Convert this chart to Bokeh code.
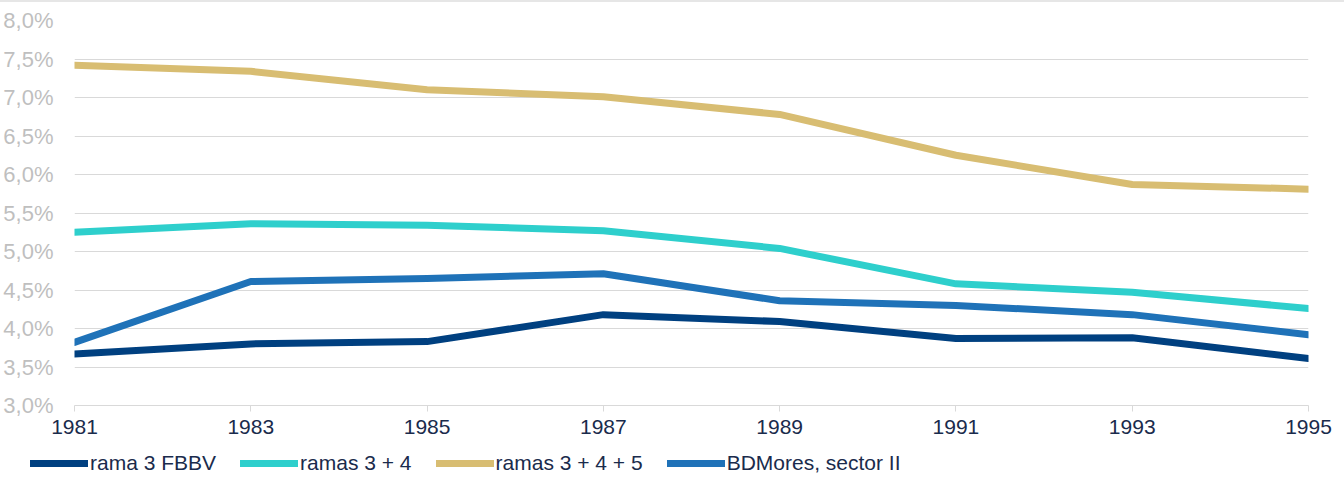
from bokeh.plotting import figure
from bokeh.models import (FixedTicker, CustomJSTickFormatter, Legend, LegendItem, Range1d)
from bokeh.embed import file_html
from bokeh.resources import INLINE

years = [1981, 1983, 1985, 1987, 1989, 1991, 1993, 1995]
rama3_fbbv = [3.67, 3.80, 3.83, 4.18, 4.09, 3.87, 3.88, 3.61]
ramas_3_4 = [5.25, 5.36, 5.34, 5.27, 5.04, 4.58, 4.47, 4.26]
ramas_3_4_5 = [7.42, 7.34, 7.10, 7.01, 6.78, 6.25, 5.87, 5.81]
bdmores_sector2 = [3.82, 4.61, 4.65, 4.71, 4.36, 4.30, 4.18, 3.92]
y_ticks = [3.0, 3.5, 4.0, 4.5, 5.0, 5.5, 6.0, 6.5, 7.0, 7.5, 8.0]

series = [
    ("rama 3 FBBV", rama3_fbbv, "#004080"),
    ("ramas 3 + 4", ramas_3_4, "#2ecfcc"),
    ("ramas 3 + 4 + 5", ramas_3_4_5, "#d8bd72"),
    ("BDMores, sector II", bdmores_sector2, "#1f72b8"),
]

FONT = "Liberation Sans"

p = figure(width=1344, height=448, output_backend="svg", toolbar_location=None,
           x_range=Range1d(1981, 1995), y_range=Range1d(3.0, 8.0),
           min_border_left=74, min_border_right=36, min_border_top=18, min_border_bottom=45)
p.outline_line_color = None
p.background_fill_color = "white"
p.border_fill_color = "white"
p.styles = {"border-top": "2px solid #e6e6e6"}

for name, vals, color in series:
    p.line(years, vals, line_color=color, line_width=7, line_cap="round", line_join="round")

# y axis
p.yaxis.ticker = FixedTicker(ticks=y_ticks)
p.yaxis.formatter = CustomJSTickFormatter(code="return tick.toFixed(1).replace('.', ',') + '%';")
p.yaxis.axis_line_color = None
p.yaxis.major_tick_line_color = None
p.yaxis.minor_tick_line_color = None
p.yaxis.major_label_text_font = FONT
p.yaxis.major_label_text_font_size = "22px"
p.yaxis.major_label_text_color = "#bfbfbf"
p.yaxis.major_label_standoff = 15

# x axis
p.xaxis.ticker = FixedTicker(ticks=years)
p.xaxis.axis_line_color = "#d9d9d9"
p.xaxis.axis_line_width = 1
p.xaxis.major_tick_line_color = "#d9d9d9"
p.xaxis.major_tick_in = 0
p.xaxis.major_tick_out = 6
p.xaxis.minor_tick_line_color = None
p.xaxis.major_label_text_font = FONT
p.xaxis.major_label_text_font_size = "21px"
p.xaxis.major_label_text_color = "#1a2b4c"
p.xaxis.major_label_standoff = 8

p.xgrid.grid_line_color = None
p.ygrid.grid_line_color = "#d9d9d9"
p.ygrid.grid_line_width = 1

# legend strip (separate root, not frame-aligned)
lg = figure(width=1344, height=34, output_backend="svg", toolbar_location=None,
            x_axis_type=None, y_axis_type=None, x_range=Range1d(0, 1), y_range=Range1d(0, 1),
            min_border_left=0, min_border_right=0, min_border_top=0, min_border_bottom=0)
lg.outline_line_color = None
lg.grid.visible = False
items = []
for name, vals, color in series:
    r = lg.line([-10, -9], [-10, -9], line_color=color, line_width=7, line_cap="round")
    items.append(LegendItem(label=name, renderers=[r]))

legend = Legend(items=items, orientation="horizontal", location=(30, 7),
                border_line_color=None, background_fill_alpha=0,
                padding=0, margin=0, spacing=24, glyph_width=58, glyph_height=20,
                label_standoff=2, label_text_font=FONT, label_text_font_size="21px",
                label_text_color="#1a2b4c", label_height=20)
lg.add_layout(legend, "center")

open("out.html", "w").write(file_html([p, lg], INLINE))
